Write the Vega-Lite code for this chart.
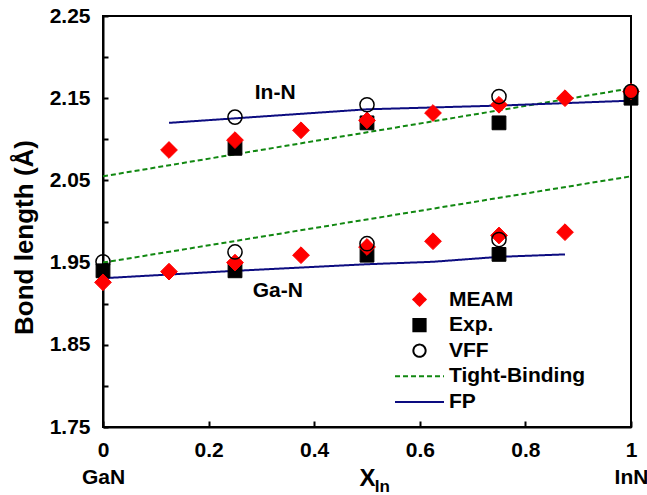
{
  "$schema": "https://vega.github.io/schema/vega-lite/v6.json",
  "width": 528,
  "height": 411,
  "autosize": {"type": "none"},
  "padding": {"left": 103, "top": 16, "right": 16, "bottom": 68},
  "background": "white",
  "config": {
    "font": "Liberation Sans",
    "view": {"stroke": "#000", "strokeWidth": 2},
    "axis": {
      "domainColor": "#000", "domainWidth": 2, "tickColor": "#000", "tickWidth": 2,
      "grid": false, "labelFont": "Liberation Sans", "labelFontSize": 21, "labelFontWeight": "bold",
      "labelColor": "#000", "titleColor": "#000", "titleFont": "Liberation Sans", "titleFontWeight": "bold",
      "labelFlush": false, "labelOverlap": false, "labelBound": false
    },
    "legend": {
      "orient": "none", "legendX": 306, "legendY": 273, "padding": 0,
      "symbolSize": 150, "symbolStrokeWidth": 2,
      "labelFont": "Liberation Sans", "labelFontSize": 21, "labelFontWeight": "bold", "labelColor": "#000",
      "labelOffset": 19, "rowPadding": 3.6, "labelLimit": 300
    }
  },
  "datasets": {
    "pts": [
      {"series": "MEAM", "group": "In-N", "x": 0.125, "y": 2.087},
      {"series": "MEAM", "group": "In-N", "x": 0.25, "y": 2.099},
      {"series": "MEAM", "group": "In-N", "x": 0.375, "y": 2.111},
      {"series": "MEAM", "group": "In-N", "x": 0.5, "y": 2.123},
      {"series": "MEAM", "group": "In-N", "x": 0.625, "y": 2.132},
      {"series": "MEAM", "group": "In-N", "x": 0.75, "y": 2.142},
      {"series": "MEAM", "group": "In-N", "x": 0.875, "y": 2.150},
      {"series": "MEAM", "group": "In-N", "x": 1, "y": 2.158},
      {"series": "MEAM", "group": "Ga-N", "x": 0, "y": 1.926},
      {"series": "MEAM", "group": "Ga-N", "x": 0.125, "y": 1.939},
      {"series": "MEAM", "group": "Ga-N", "x": 0.25, "y": 1.950},
      {"series": "MEAM", "group": "Ga-N", "x": 0.375, "y": 1.959},
      {"series": "MEAM", "group": "Ga-N", "x": 0.5, "y": 1.969},
      {"series": "MEAM", "group": "Ga-N", "x": 0.625, "y": 1.976},
      {"series": "MEAM", "group": "Ga-N", "x": 0.75, "y": 1.983},
      {"series": "MEAM", "group": "Ga-N", "x": 0.875, "y": 1.987},
      {"series": "Exp.", "group": "In-N", "x": 0.25, "y": 2.089},
      {"series": "Exp.", "group": "In-N", "x": 0.5, "y": 2.120},
      {"series": "Exp.", "group": "In-N", "x": 0.75, "y": 2.120},
      {"series": "Exp.", "group": "In-N", "x": 1, "y": 2.150},
      {"series": "Exp.", "group": "Ga-N", "x": 0, "y": 1.940},
      {"series": "Exp.", "group": "Ga-N", "x": 0.25, "y": 1.940},
      {"series": "Exp.", "group": "Ga-N", "x": 0.5, "y": 1.959},
      {"series": "Exp.", "group": "Ga-N", "x": 0.75, "y": 1.960},
      {"series": "VFF", "group": "In-N", "x": 0.25, "y": 2.127},
      {"series": "VFF", "group": "In-N", "x": 0.5, "y": 2.142},
      {"series": "VFF", "group": "In-N", "x": 0.75, "y": 2.152},
      {"series": "VFF", "group": "In-N", "x": 1, "y": 2.158},
      {"series": "VFF", "group": "Ga-N", "x": 0, "y": 1.951},
      {"series": "VFF", "group": "Ga-N", "x": 0.25, "y": 1.963},
      {"series": "VFF", "group": "Ga-N", "x": 0.5, "y": 1.973},
      {"series": "VFF", "group": "Ga-N", "x": 0.75, "y": 1.978},
      {"series": "Tight-Binding", "group": "In-N", "x": 0, "y": 2.055},
      {"series": "Tight-Binding", "group": "In-N", "x": 1, "y": 2.162},
      {"series": "Tight-Binding", "group": "Ga-N", "x": 0, "y": 1.950},
      {"series": "Tight-Binding", "group": "Ga-N", "x": 1, "y": 2.055},
      {"series": "FP", "group": "In-N", "x": 0.125, "y": 2.120},
      {"series": "FP", "group": "In-N", "x": 0.25, "y": 2.1255},
      {"series": "FP", "group": "In-N", "x": 0.5, "y": 2.1365},
      {"series": "FP", "group": "In-N", "x": 0.75, "y": 2.141},
      {"series": "FP", "group": "In-N", "x": 1, "y": 2.147},
      {"series": "FP", "group": "Ga-N", "x": 0, "y": 1.931},
      {"series": "FP", "group": "Ga-N", "x": 0.25, "y": 1.940},
      {"series": "FP", "group": "Ga-N", "x": 0.5, "y": 1.948},
      {"series": "FP", "group": "Ga-N", "x": 0.625, "y": 1.951},
      {"series": "FP", "group": "Ga-N", "x": 0.75, "y": 1.957},
      {"series": "FP", "group": "Ga-N", "x": 0.875, "y": 1.960}
    ],
    "labels": [
      {"label": "In-N", "x": 0.326, "y": 2.156, "size": "big"},
      {"label": "Ga-N", "x": 0.331, "y": 1.915, "size": "big"},
      {"label": "In", "x": 0.529, "y": 1.677, "size": "small"}
    ]
  },
  "encoding": {
    "x": {
      "field": "x", "type": "quantitative",
      "scale": {"domain": [0, 1], "nice": false, "zero": false},
      "axis": {
        "title": "X", "titleFontSize": 24, "titleX": 264, "titleY": 58,
        "titleBaseline": "alphabetic", "titleAlign": "center",
        "values": [0, 0.2, 0.4, 0.6, 0.8, 1], "tickSize": -6, "labelPadding": 18,
        "labelLineHeight": 27,
        "labelExpr": "datum.value == 0 ? ['0', 'GaN'] : (datum.value == 1 ? ['1', 'InN'] : format(datum.value, '.1f'))"
      }
    },
    "y": {
      "field": "y", "type": "quantitative",
      "scale": {"domain": [1.75, 2.25], "nice": false, "zero": false},
      "axis": {
        "title": "Bond length (Å)", "titleFontSize": 26, "titleX": -71, "titleY": 221,
        "titleBaseline": "alphabetic", "titleAlign": "center", "titleAngle": -90,
        "values": [1.75, 1.8, 1.85, 1.9, 1.95, 2.0, 2.05, 2.1, 2.15, 2.2, 2.25],
        "tickSize": -5, "labelPadding": 18,
        "labelExpr": "(round(datum.value * 100) % 10 == 5) ? format(datum.value, '.2f') : ''"
      }
    }
  },
  "layer": [
    {
      "data": {"name": "pts"},
      "transform": [{"filter": "datum.series == 'Tight-Binding' || datum.series == 'FP'"}],
      "mark": {"type": "line", "strokeWidth": 2},
      "encoding": {
        "detail": {"field": "group"},
        "stroke": {"field": "series", "type": "nominal", "title": null,
          "scale": {"domain": ["MEAM", "Exp.", "VFF", "Tight-Binding", "FP"], "range": ["#ff0000", "#000000", "#000000", "#118811", "#0c0c80"]}},
        "strokeDash": {"field": "series", "type": "nominal", "title": null,
          "scale": {"domain": ["MEAM", "Exp.", "VFF", "Tight-Binding", "FP"], "range": [[1, 0], [1, 0], [1, 0], [5, 3], [1, 0]]}}
      }
    },
    {
      "data": {"name": "pts"},
      "transform": [{"filter": "datum.series == 'Exp.'"}],
      "mark": {"type": "point", "size": 190, "strokeWidth": 1, "opacity": 1},
      "encoding": {
        "shape": {"field": "series", "type": "nominal", "title": null,
          "scale": {"domain": ["MEAM", "Exp.", "VFF", "Tight-Binding", "FP"], "range": ["diamond", "square", "circle", "M-4,0H4", "M-4,0H4"]}},
        "fill": {"field": "series", "type": "nominal", "title": null,
          "scale": {"domain": ["MEAM", "Exp.", "VFF", "Tight-Binding", "FP"], "range": ["#ff0000", "#000000", "transparent", "transparent", "transparent"]}},
        "stroke": {"field": "series", "type": "nominal", "title": null}
      }
    },
    {
      "data": {"name": "pts"},
      "transform": [{"filter": "datum.series == 'MEAM'"}],
      "mark": {"type": "point", "size": 280, "strokeWidth": 1, "opacity": 1},
      "encoding": {
        "shape": {"field": "series", "type": "nominal", "title": null},
        "fill": {"field": "series", "type": "nominal", "title": null},
        "stroke": {"field": "series", "type": "nominal", "title": null}
      }
    },
    {
      "data": {"name": "pts"},
      "transform": [{"filter": "datum.series == 'VFF'"}],
      "mark": {"type": "point", "size": 200, "strokeWidth": 1.5, "opacity": 1},
      "encoding": {
        "shape": {"field": "series", "type": "nominal", "title": null},
        "fill": {"field": "series", "type": "nominal", "title": null},
        "stroke": {"field": "series", "type": "nominal", "title": null}
      }
    },
    {
      "data": {"name": "labels"},
      "transform": [{"filter": "datum.size == 'big'"}],
      "mark": {"type": "text", "font": "Liberation Sans", "fontSize": 21, "fontWeight": "bold", "color": "#000", "baseline": "middle"},
      "encoding": {"text": {"field": "label"}}
    },
    {
      "data": {"name": "labels"},
      "transform": [{"filter": "datum.size == 'small'"}],
      "mark": {"type": "text", "font": "Liberation Sans", "fontSize": 17, "fontWeight": "bold", "color": "#000", "baseline": "middle"},
      "encoding": {"text": {"field": "label"}}
    }
  ]
}
